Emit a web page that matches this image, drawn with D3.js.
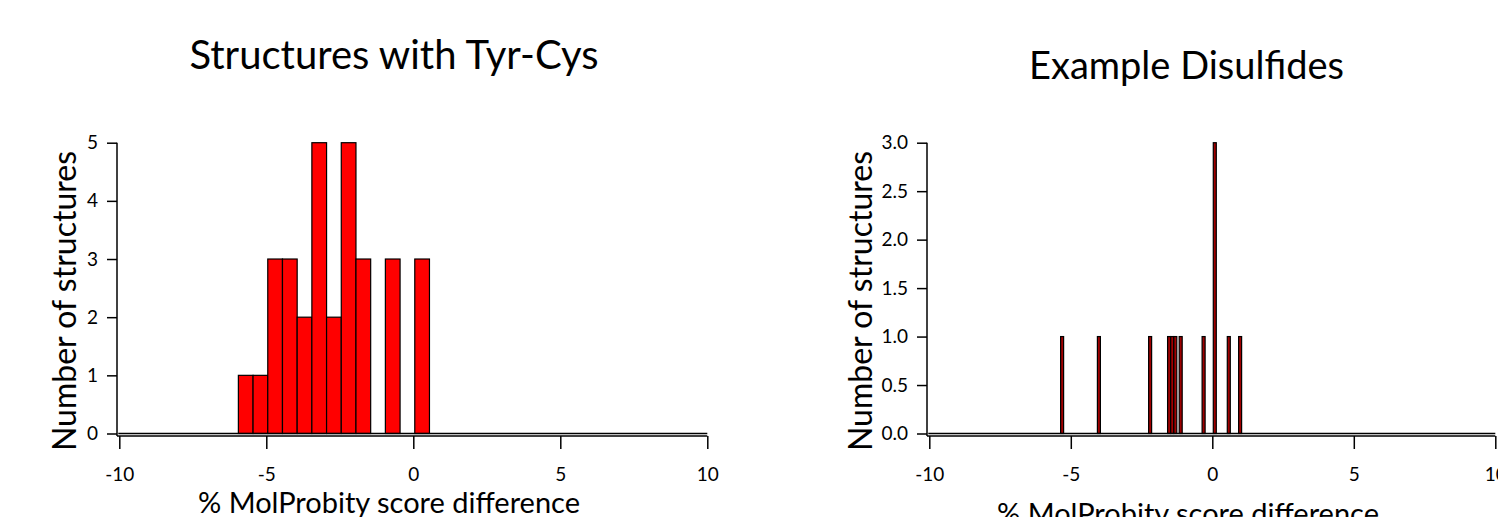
<!DOCTYPE html>
<html lang="en">
<head>
<meta charset="UTF-8">
<title>Tyr-Cys vs disulfide histograms</title>
<script src="https://d3js.org/d3.v7.min.js"></script>
<style>
  body { margin: 0; background: #fff; }
  text { font-family: Lato, "Open Sans", sans-serif; fill: #000; }
  .axis path, .axis line { stroke: #000; stroke-width: 1.5px; }
</style>
</head>
<body>
<svg id="chart" width="1498" height="517"></svg>
<script>
// x tick values shared by both panels
const xTicks = [-10, -5, 0, 5, 10];

// left panel: structures with Tyr-Cys (bin start, counts), bins 0.5 wide
const tyrBinStart = [-5.95, -5.45, -4.95, -4.45, -3.95, -3.45, -2.95, -2.45, -1.95, -0.95, 0.05];
const tyrCounts   = [1, 1, 3, 3, 2, 5, 2, 5, 3, 3, 3];
const tyrBinWidth = 0.5;
const tyrYTicks = [0, 1, 2, 3, 4, 5];

// right panel: example disulfides, narrow bins
const disBinStart = [-5.36, -4.06, -2.25, -1.58, -1.47, -1.36, -1.17, -0.36, 0.035, 0.53, 0.93];
const disCounts   = [1, 1, 1, 1, 1, 1, 1, 1, 3, 1, 1];
const disBinWidth = 0.106;
const disYTicks = [0, 0.5, 1, 1.5, 2, 2.5, 3];

const svg = d3.select("#chart");
const tickFont = 19;

function drawPanel(opt) {
  const x = d3.scaleLinear().domain([-10, 10]).range(opt.xRange);
  const y = d3.scaleLinear().domain([0, opt.yMax]).range([433.5, 142.7]);
  const g = svg.append("g");

  const bins = opt.starts.map((s, i) => ({ start: s, count: opt.counts[i] }));

  g.selectAll("rect.bar")
    .data(bins)
    .enter()
    .append("rect")
    .attr("class", "bar")
    .attr("x", d => x(d.start))
    .attr("width", d => x(d.start + opt.binWidth) - x(d.start))
    .attr("y", d => y(d.count))
    .attr("height", d => y(0) - y(d.count))
    .attr("fill", opt.fill)
    .attr("stroke", "#000")
    .attr("stroke-width", 1.2);

  // zero line under the bars
  g.append("line")
    .attr("x1", opt.xRange[0] - 1).attr("x2", opt.xRange[1])
    .attr("y1", y(0)).attr("y2", y(0))
    .attr("stroke", "#000").attr("stroke-width", 1.3);

  const axisY = 436;
  const axisX = opt.xRange[0] - 2.3;

  // x axis
  g.append("g")
    .attr("class", "axis")
    .attr("font-size", tickFont)
    .attr("transform", `translate(0,${axisY})`)
    .call(d3.axisBottom(x).tickValues(xTicks).tickSize(13).tickSizeOuter(0).tickPadding(19).tickFormat(d => String(d)))
    .attr("font-size", tickFont)
    .attr("font-family", "Lato, sans-serif")
    .call(a => a.select(".domain").attr("d", `M${axisX},0H${opt.xRange[1]}`));

  // y axis
  g.append("g")
    .attr("class", "axis")
    .attr("transform", `translate(${axisX},0)`)
    .call(d3.axisLeft(y).tickValues(opt.yTicks).tickSize(10).tickSizeOuter(0).tickPadding(9).tickFormat(opt.yFormat))
    .attr("font-size", tickFont)
    .attr("font-family", "Lato, sans-serif")
    .call(a => a.select(".domain").attr("d", `M0,${y(opt.yMax)}V${axisY}`));

  // title
  svg.append("text")
    .attr("x", opt.titleX).attr("y", opt.titleY)
    .attr("text-anchor", "middle")
    .style("font-size", opt.titleSize + "px")
    .text(opt.title);

  // y label
  svg.append("text")
    .attr("transform", `translate(${opt.yLabelX},301) rotate(-90)`)
    .attr("text-anchor", "middle")
    .style("font-size", "32px")
    .text("Number of structures");

  // x label
  svg.append("text")
    .attr("x", opt.xLabelX).attr("y", opt.xLabelY)
    .attr("text-anchor", "middle")
    .style("font-size", "29px")
    .text("% MolProbity score difference");
}

drawPanel({
  xRange: [119.3, 707.3], yMax: 5, yTicks: tyrYTicks, yFormat: d => String(d),
  starts: tyrBinStart, counts: tyrCounts, binWidth: tyrBinWidth, fill: "#ff0000",
  title: "Structures with Tyr-Cys", titleSize: 40, titleX: 394, titleY: 69,
  yLabelX: 76, xLabelX: 389, xLabelY: 513
});

drawPanel({
  xRange: [929.3, 1495.3], yMax: 3, yTicks: disYTicks, yFormat: d3.format(".1f"),
  starts: disBinStart, counts: disCounts, binWidth: disBinWidth, fill: "#a00000",
  title: "Example Disulfides", titleSize: 38, titleX: 1186.5, titleY: 79,
  yLabelX: 872, xLabelX: 1188, xLabelY: 524
});
</script>
</body>
</html>
